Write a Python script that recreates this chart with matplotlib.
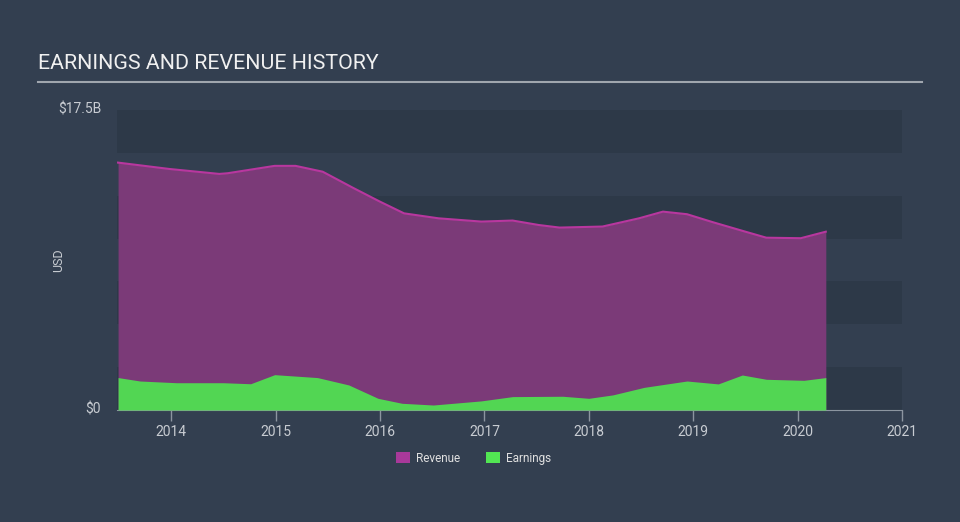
import numpy as np
import matplotlib.pyplot as plt
from matplotlib.patches import Patch

# revenue history (USD billions)
rev_x = [2013.49, 2013.98, 2014.46, 2014.54, 2014.99, 2015.19, 2015.45, 2015.75, 2016.0,
         2016.23, 2016.56, 2016.97, 2017.27, 2017.52, 2017.72, 2018.13, 2018.48, 2018.71,
         2018.94, 2019.19, 2019.5, 2019.7, 2020.03, 2020.27]
rev_y = [14.43, 14.06, 13.77, 13.81, 14.24, 14.24, 13.9, 12.93, 12.15,
         11.47, 11.18, 10.99, 11.05, 10.79, 10.64, 10.7, 11.18, 11.57,
         11.42, 10.95, 10.4, 10.05, 10.02, 10.4]

# earnings history (USD billions)
earn_x = [2013.49, 2013.7, 2014.05, 2014.5, 2014.76, 2014.99, 2015.4, 2015.7, 2015.98,
          2016.21, 2016.51, 2016.97, 2017.27, 2017.75, 2018.0, 2018.23, 2018.53, 2018.94,
          2019.24, 2019.47, 2019.7, 2020.06, 2020.27]
earn_y = [1.89, 1.69, 1.59, 1.59, 1.53, 2.06, 1.89, 1.46, 0.68,
          0.39, 0.29, 0.53, 0.78, 0.80, 0.68, 0.88, 1.32, 1.69,
          1.52, 2.04, 1.79, 1.73, 1.89]

years = [2014, 2015, 2016, 2017, 2018, 2019, 2020, 2021]

bg = '#333f50'
band = '#2d3948'
grey = '#c8ccd2'

plt.rcParams['font.family'] = ['Roboto', 'DejaVu Sans']
fig = plt.figure(figsize=(9.6, 5.22), dpi=100, facecolor=bg)
ax = fig.add_axes([0.1219, 0.2146, 0.8177, 0.5747])
ax.set_facecolor(bg)

# alternating horizontal bands
for lo in np.arange(0, 17.5, 5.0):
    ax.axhspan(lo, lo + 2.5, color=band, zorder=0, lw=0)

ax.fill_between(rev_x, rev_y, color='#7b3a78', zorder=1, lw=0)
ax.plot(rev_x, rev_y, color='#b8379f', lw=1.5, zorder=2)
ax.fill_between(earn_x, earn_y, color='#52d653', zorder=3, lw=0)

ax.set_xlim(2013.48, 2021.0)
ax.set_ylim(0, 17.5)
ax.set_xticks(years)
ax.set_xticklabels([str(y) for y in years])
ax.set_yticks([0, 17.5])
ax.set_yticklabels(['$0', '$17.5B'])
ax.tick_params(axis='x', colors='#8c95a0', length=8, width=1, labelcolor=grey, labelsize=10, pad=3)
ax.tick_params(axis='y', length=0, labelcolor=grey, labelsize=10, pad=11.5)
for lab in ax.get_yticklabels():
    lab.set_verticalalignment('center')
for s in ['top', 'right', 'left']:
    ax.spines[s].set_visible(False)
ax.spines['bottom'].set_color('#8c95a0')
ax.set_ylabel('USD', color=grey, fontsize=9)
ax.yaxis.set_label_coords(-0.066, 0.5)

fig.text(0.04, 0.868, 'EARNINGS AND REVENUE HISTORY', color='#f0f0f0', fontsize=15.4)
fig.add_artist(plt.Line2D([0.04, 0.96], [0.843, 0.843], color='#a0a6ae', lw=1.5))

handles = [Patch(facecolor='#a8399a', label='Revenue'), Patch(facecolor='#52e653', label='Earnings')]
leg = fig.legend(handles=handles, loc='center', bbox_to_anchor=(0.493, 0.122), ncol=2,
                 frameon=False, fontsize=8.5, handlelength=1.2, handleheight=1.0,
                 columnspacing=2.2, handletextpad=0.5)
for t in leg.get_texts():
    t.set_color('#e0e0e0')

fig.savefig('out.png', dpi=100, facecolor=bg)
